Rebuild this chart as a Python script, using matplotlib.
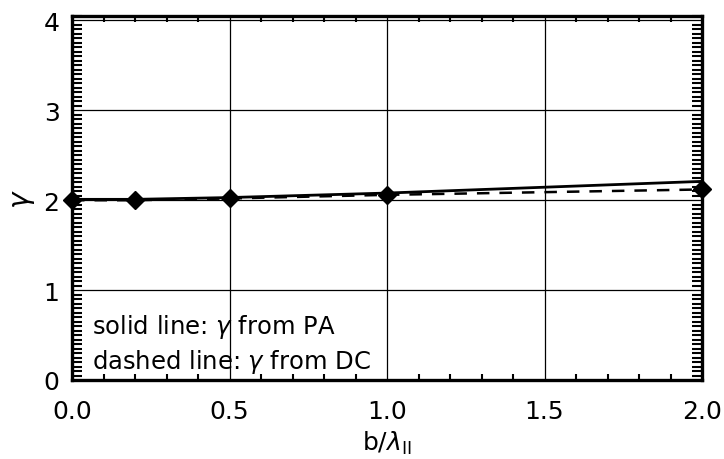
import numpy as np
import matplotlib
matplotlib.use("Agg")
import matplotlib.pyplot as plt
from matplotlib.ticker import MultipleLocator

# gamma vs b/lambda_par, two estimators
b_ratio = [0.0, 0.2, 0.5, 1.0, 2.0]
gamma_pa = [2.01, 2.01, 2.03, 2.08, 2.21]
gamma_dc = [2.00, 2.00, 2.02, 2.06, 2.12]

x_ticks = [0.0, 0.5, 1.0, 1.5, 2.0]
y_ticks = [0, 1, 2, 3, 4]

plt.rcParams["font.family"] = "DejaVu Sans"

fig = plt.figure(figsize=(7.24, 4.6), dpi=100)
ax = fig.add_axes([72 / 724, 1 - 381 / 460, 630 / 724, 364 / 460])

ax.plot(b_ratio, gamma_pa, "-", color="black", lw=2.0, zorder=3)
ax.plot(b_ratio, gamma_dc, "--", color="black", lw=1.8, dashes=(5, 4),
        marker="D", ms=9, zorder=4, clip_on=False)

ax.set_xlim(0, 2)
ax.set_ylim(0, 4.05)
ax.set_xticks(x_ticks)
ax.set_xticklabels([f"{v:.1f}" for v in x_ticks])
ax.set_yticks(y_ticks)
ax.xaxis.set_minor_locator(MultipleLocator(0.1))
ax.yaxis.set_minor_locator(MultipleLocator(0.05))
ax.grid(True, which="major", color="black", lw=0.9)

ax.tick_params(which="both", direction="in", top=True, right=True,
               labelsize=18, width=1.5)
ax.tick_params(which="major", length=0)
ax.tick_params(axis="x", which="major", pad=14)
ax.tick_params(axis="y", which="major", pad=9)
ax.tick_params(axis="x", which="minor", length=4)
ax.tick_params(axis="y", which="minor", length=7)
for s in ax.spines.values():
    s.set_linewidth(2.4)

ax.set_xlabel(r"b/$\lambda_{\rm II}$", fontsize=18, labelpad=4)
ax.set_ylabel(r"$\gamma$", fontsize=20, labelpad=5)

ax.text(0.065, 0.6, r"solid line: $\gamma$ from PA", fontsize=17.5, va="center")
ax.text(0.065, 0.21, r"dashed line: $\gamma$ from DC", fontsize=17.5, va="center")

fig.savefig("out.png", dpi=100)
